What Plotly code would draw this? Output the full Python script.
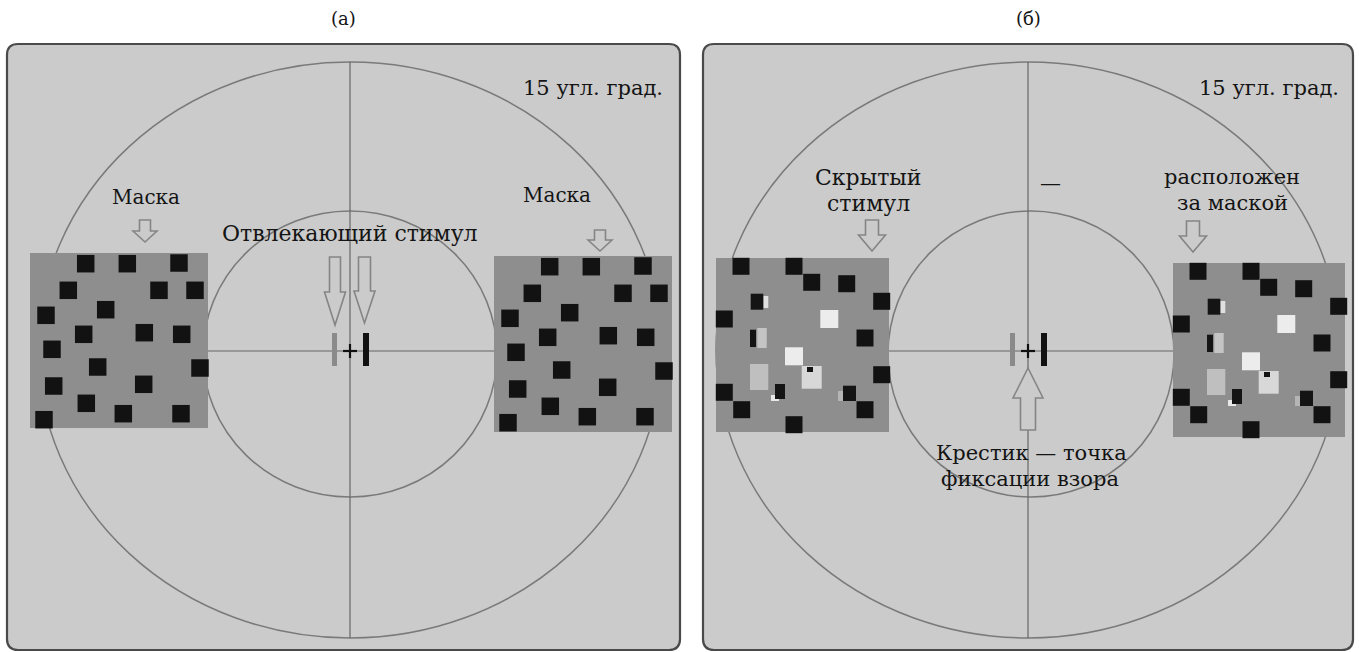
import plotly.graph_objects as go

W, H = 1359, 652
FONT = "DejaVu Serif"

# ---------------- data ----------------
PANEL_TITLES = ["(а)", "(б)"]
PANEL_X0 = [7, 703]
PANEL_X1 = [680, 1353]
PANEL_Y0, PANEL_Y1 = 44, 650
CENTER_X = [350, 1028]
CENTER_Y = 351
OUTER_RX, OUTER_RY, OUTER_CY = 312, 288, 350
INNER_CX = [350, 1031]
INNER_RX = [147, 143]
INNER_RY, INNER_CY = 143, 354

# masks (left a, right a, left b, right b)
MASK_X0 = [30, 494, 716, 1173]
MASK_Y0 = [253, 256, 258, 263]
MASK_W = [178, 178, 173, 172]
MASK_H = [175, 176, 174, 174]
MASK_PATTERN = ["a", "a", "b", "b"]

# pattern (a): black square centres relative to mask corner
MASK_A_X = [55.7, 97.3, 149, 38.3, 129, 165, 16, 75.7, 53.7, 114.3, 151.7, 22,
            67.7, 170, 23.7, 113.7, 56.3, 93.3, 151, 14]
MASK_A_Y = [10.7, 10.7, 10, 37.3, 37.3, 37.3, 62.3, 56.7, 81.3, 79.7, 81.3, 96.3,
            114, 115, 133, 131.3, 150.3, 160.7, 160.7, 166.7]
# pattern (b): black squares, white squares and fragments of the hidden stimulus
MASK_B_X = [25, 78, 95.7, 130.7, 165.7, 8.3, 149, 165.7, 8.3, 25.7, 149, 78]
MASK_B_Y = [8.3, 8.3, 24.3, 25.7, 43.3, 61, 80, 116.7, 134.3, 151.7, 151.7, 166.7]
MASK_B_WHITE_X = [113.3, 78]
MASK_B_WHITE_Y = [61, 98.3]
FRAG_X0 = [47.3, 41.3, 85.7, 34, 55, 122, 34.7, 34, 59, 127, 91]
FRAG_Y0 = [38, 70, 108, 106, 137, 133, 35.7, 71.7, 126, 127.7, 109]
FRAG_X1 = [52.3, 50.7, 105.7, 52.3, 63, 128, 47.3, 40, 69, 140, 97]
FRAG_Y1 = [50, 90, 130.7, 132, 143, 143, 51.7, 89, 141, 143, 114]
FRAG_TONE = ["#e0e0e0", "#c4c4c4", "#d8d8d8", "#bfbfbf", "#e8e8e8", "#b5b5b5",
             "#141414", "#141414", "#141414", "#141414", "#141414"]

# fixation bars (offsets from centre)
BAR_X0 = [-18, 13]
BAR_X1 = [-13, 19]
BAR_COL = ["#8a8a8a", "#111111"]
BAR_Y0, BAR_Y1 = 333, 366

# down arrows: x, top, tip, shaft width, head width, head length
ARR_X = [145, 600, 335, 364.5, 872, 1193]
ARR_TOP = [220, 230, 257, 257, 220, 221]
ARR_TIP = [242, 251, 325, 323, 251, 252]
ARR_SW = [11, 11, 11, 12, 13, 13]
ARR_HW = [24, 24, 21, 21, 27, 27]
ARR_HL = [11, 11, 33, 32, 16, 16]
# up arrow (panel b)
UP_X, UP_TIP, UP_BASE, UP_BOT, UP_SW, UP_HW = 1028, 368, 398, 430, 15, 30

LABELS = ["Маска", "Маска", "Отвлекающий стимул", "Скрытый", "стимул", "—",
          "расположен", "за маской", "Крестик — точка", "фиксации взора"]
LABEL_X = [146, 557, 350, 868, 868, 1050, 1232, 1232, 1031, 1030]
LABEL_Y = [197, 195, 233, 177, 203, 183, 177, 203, 453, 479]
LABEL_SIZE = [20, 20, 22, 22, 22, 21, 21, 21, 21, 21]
SCALE_LABEL = "15 угл. град."
SCALE_X = [665, 1341]
SCALE_Y = 88

# ---------------- drawing ----------------
PANEL_FILL = "#cbcbcb"
TEXT_COL = "#141414"
shapes = []


def rrect(x0, y0, x1, y1, r):
    return (f"M{x0+r},{y0} L{x1-r},{y0} Q{x1},{y0} {x1},{y0+r} L{x1},{y1-r} "
            f"Q{x1},{y1} {x1-r},{y1} L{x0+r},{y1} Q{x0},{y1} {x0},{y1-r} "
            f"L{x0},{y0+r} Q{x0},{y0} {x0+r},{y0} Z")


def darrow(x, top, tip, sw, hw, hl):
    b = tip - hl
    return (f"M{x-sw/2},{top} L{x+sw/2},{top} L{x+sw/2},{b} L{x+hw/2},{b} "
            f"L{x},{tip} L{x-hw/2},{b} L{x-sw/2},{b} Z")


for i in range(2):
    shapes.append(dict(type="path", path=rrect(PANEL_X0[i], PANEL_Y0, PANEL_X1[i], PANEL_Y1, 11),
                       fillcolor=PANEL_FILL, line=dict(color="#4a4a4a", width=2.2)))
    cx = CENTER_X[i]
    shapes.append(dict(type="circle", x0=cx - OUTER_RX, x1=cx + OUTER_RX,
                       y0=OUTER_CY - OUTER_RY, y1=OUTER_CY + OUTER_RY,
                       line=dict(color="#7a7a7a", width=1.5)))
    shapes.append(dict(type="circle", x0=INNER_CX[i] - INNER_RX[i], x1=INNER_CX[i] + INNER_RX[i],
                       y0=INNER_CY - INNER_RY, y1=INNER_CY + INNER_RY,
                       line=dict(color="#7a7a7a", width=1.5)))
    shapes.append(dict(type="line", x0=cx, x1=cx, y0=OUTER_CY - OUTER_RY, y1=OUTER_CY + OUTER_RY,
                       line=dict(color="#666666", width=1.2)))
    shapes.append(dict(type="line", x0=cx - OUTER_RX, x1=cx + OUTER_RX, y0=CENTER_Y, y1=CENTER_Y,
                       line=dict(color="#666666", width=1.2)))

for m in range(4):
    mx, my = MASK_X0[m], MASK_Y0[m]
    shapes.append(dict(type="rect", x0=mx, x1=mx + MASK_W[m], y0=my, y1=my + MASK_H[m],
                       fillcolor="#8e8e8e", line=dict(width=0)))
    if MASK_PATTERN[m] == "a":
        xs, ys, s = MASK_A_X, MASK_A_Y, 17.5
    else:
        xs, ys, s = MASK_B_X, MASK_B_Y, 17
        for k in range(len(FRAG_X0)):
            shapes.append(dict(type="rect", x0=mx + FRAG_X0[k], x1=mx + FRAG_X1[k],
                               y0=my + FRAG_Y0[k], y1=my + FRAG_Y1[k],
                               fillcolor=FRAG_TONE[k], line=dict(width=0)))
        for wx, wy in zip(MASK_B_WHITE_X, MASK_B_WHITE_Y):
            shapes.append(dict(type="rect", x0=mx + wx - 9, x1=mx + wx + 9,
                               y0=my + wy - 9, y1=my + wy + 9,
                               fillcolor="#ececec", line=dict(width=0)))
    for sx, sy in zip(xs, ys):
        shapes.append(dict(type="rect", x0=mx + sx - s / 2, x1=mx + sx + s / 2,
                           y0=my + sy - s / 2, y1=my + sy + s / 2,
                           fillcolor="#121212", line=dict(width=0)))

for i in range(2):
    cx = CENTER_X[i]
    for k in range(2):
        shapes.append(dict(type="rect", x0=cx + BAR_X0[k], x1=cx + BAR_X1[k],
                           y0=BAR_Y0, y1=BAR_Y1, fillcolor=BAR_COL[k], line=dict(width=0)))
    shapes.append(dict(type="line", x0=cx - 7, x1=cx + 7, y0=CENTER_Y, y1=CENTER_Y,
                       line=dict(color="#111111", width=2.2)))
    shapes.append(dict(type="line", x0=cx, x1=cx, y0=CENTER_Y - 7, y1=CENTER_Y + 7,
                       line=dict(color="#111111", width=2.2)))

for k in range(len(ARR_X)):
    shapes.append(dict(type="path", path=darrow(ARR_X[k], ARR_TOP[k], ARR_TIP[k], ARR_SW[k], ARR_HW[k], ARR_HL[k]),
                       fillcolor=PANEL_FILL, line=dict(color="#858585", width=1.6)))
up = (f"M{UP_X-UP_SW/2},{UP_BOT} L{UP_X+UP_SW/2},{UP_BOT} L{UP_X+UP_SW/2},{UP_BASE} "
      f"L{UP_X+UP_HW/2},{UP_BASE} L{UP_X},{UP_TIP} L{UP_X-UP_HW/2},{UP_BASE} L{UP_X-UP_SW/2},{UP_BASE} Z")
shapes.append(dict(type="path", path=up, fillcolor=PANEL_FILL, line=dict(color="#858585", width=1.6)))

annotations = []
for i in range(2):
    annotations.append(dict(x=(PANEL_X0[i] + PANEL_X1[i]) / 2, y=18, text=PANEL_TITLES[i],
                            showarrow=False, font=dict(family=FONT, size=18, color=TEXT_COL)))
    annotations.append(dict(x=SCALE_X[i], y=SCALE_Y, text=SCALE_LABEL, xanchor="right",
                            showarrow=False, font=dict(family=FONT, size=21, color=TEXT_COL)))
for t, x, y, fs in zip(LABELS, LABEL_X, LABEL_Y, LABEL_SIZE):
    annotations.append(dict(x=x, y=y, text=t, showarrow=False,
                            font=dict(family=FONT, size=fs, color=TEXT_COL)))
for a in annotations:
    a.update(xref="x", yref="y")

fig = go.Figure()
fig.add_trace(go.Scatter(x=[0, W], y=[0, H], mode="markers", marker=dict(opacity=0),
                         hoverinfo="skip", showlegend=False))
fig.update_layout(width=W, height=H, margin=dict(l=0, r=0, t=0, b=0),
                  paper_bgcolor="white", plot_bgcolor="white",
                  xaxis=dict(range=[0, W], visible=False, fixedrange=True),
                  yaxis=dict(range=[H, 0], visible=False, fixedrange=True),
                  shapes=shapes, annotations=annotations, showlegend=False)
fig.write_html("out.html", config={"displayModeBar": False},
               post_script="document.body.style.margin='0px';document.body.style.overflow='hidden';")
